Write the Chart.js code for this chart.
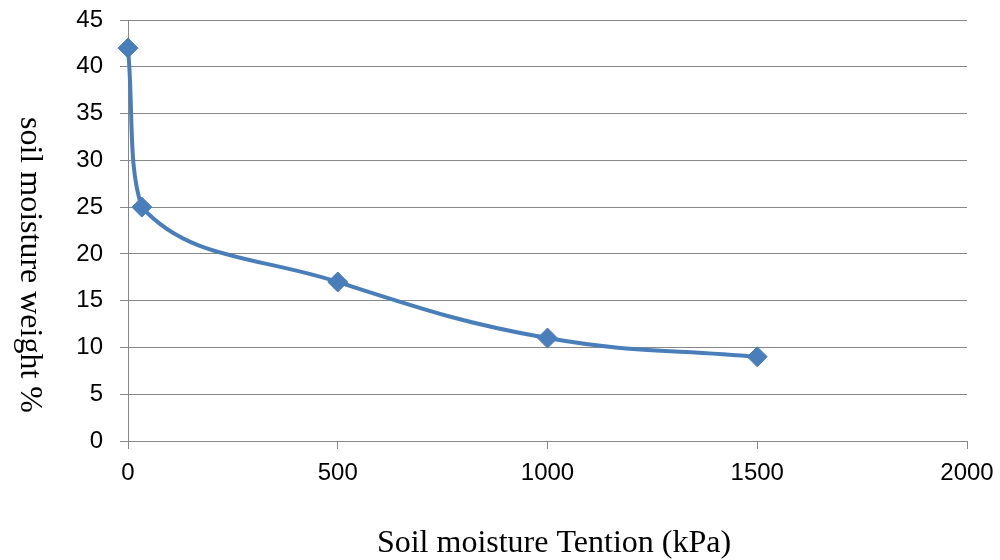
<!DOCTYPE html>
<html>
<head>
<meta charset="utf-8">
<script src="https://cdn.jsdelivr.net/npm/chart.js@4/dist/chart.umd.min.js"></script>
<style>
  html, body { margin: 0; padding: 0; background: #fff; }
  #wrap { width: 1000px; height: 560px; }
</style>
</head>
<body>
<div id="wrap"><canvas id="c" width="1000" height="560"></canvas></div>
<script>
const tension = [0, 33, 500, 1000, 1500]; // kPa
const moisture = [42, 25, 17, 11, 9]; // weight %
const xTicks = [0, 500, 1000, 1500, 2000];
const yTicks = [0, 5, 10, 15, 20, 25, 30, 35, 40, 45];

const xTitle = "Soil moisture Tention (kPa)";
const yTitle = "soil moisture weight %";

let points = tension.map((t, i) => ({ x: t, y: moisture[i] }));

// axis titles drawn by hand (y title reads top-to-bottom like the original)
const titlePlugin = {
  id: "titles",
  afterDraw(chart) {
    const ctx = chart.ctx;
    ctx.save();
    ctx.fillStyle = "#000";
    ctx.font = "32px 'Liberation Serif'";
    ctx.textAlign = "center";
    ctx.textBaseline = "alphabetic";
    ctx.fillText(xTitle, 554, 552);
    ctx.translate(21, 265);
    ctx.rotate(Math.PI / 2);
    ctx.fillText(yTitle, 0, 0);
    ctx.restore();
  },
};

const tickFont = { family: "Liberation Sans", size: 24 };

const myChart = new Chart(document.getElementById("c"), {
  type: "scatter",
  data: {
    datasets: [
      {
        data: points,
        showLine: true,
        tension: 0.4,
        clip: false,
        borderColor: "#4a7ebb",
        borderWidth: 4,
        pointStyle: "rectRot",
        pointRadius: 10,
        pointBackgroundColor: "#4a7ebb",
        pointBorderColor: "#4a7ebb",
        pointBorderWidth: 1,
      },
    ],
  },
  options: {
    responsive: false,
    animation: false,
    layout: { padding: { top: 20, right: 33, left: 0, bottom: 0 } },
    plugins: { legend: { display: false }, tooltip: { enabled: false } },
    scales: {
      x: {
        type: "linear",
        min: 0,
        max: 2000,
        afterBuildTicks: (scale) => {
          scale.ticks = xTicks.map((v) => ({ value: v }));
        },
        afterFit: (scale) => {
          scale.height = 119;
          scale.paddingLeft = 0;
          scale.paddingRight = 0;
        },
        ticks: { color: "#000", font: tickFont, padding: 10, callback: (v) => String(v) },
        grid: { drawOnChartArea: false, drawTicks: true, tickLength: 8, color: "#878787" },
        border: { color: "#878787", width: 1 },
      },
      y: {
        min: 0,
        max: 45,
        afterBuildTicks: (scale) => {
          scale.ticks = yTicks.map((v) => ({ value: v }));
        },
        afterFit: (scale) => {
          scale.width = 128;
          scale.paddingTop = 0;
          scale.paddingBottom = 0;
        },
        ticks: { color: "#000", font: tickFont, padding: 17, callback: (v) => String(v) },
        grid: { color: "#878787", tickLength: 8 },
        border: { color: "#878787", width: 1 },
      },
    },
  },
  plugins: [titlePlugin],
});
myChart;
</script>
</body>
</html>
